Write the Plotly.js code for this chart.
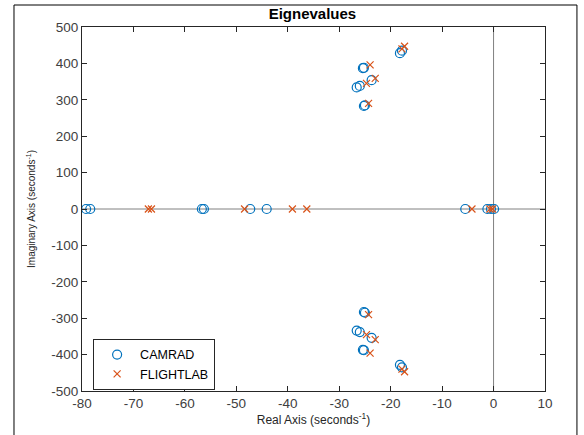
<!DOCTYPE html>
<html><head><meta charset="utf-8">
<script src="https://cdn.plot.ly/plotly-3.0.1.min.js"></script>
<style>body{margin:0;background:#fff}#chart{width:584px;height:435px}</style>
</head><body><div id="chart"></div>
<script>
// CAMRAD eigenvalues (real, imaginary)
const camradReal = [-18.2, -17.8, -25.4, -25.2, -26.6, -26.0, -23.7, -25.2, -25.0,
                    -18.2, -17.8, -25.4, -25.2, -26.6, -26.0, -23.7, -25.2, -25.0,
                    -79.2, -78.4, -56.7, -56.3, -47.3, -44.1, -5.5, -1.2, -0.5, 0.1];
const camradImag = [428, 435, 387, 388, 334, 338, 354, 283, 285,
                    -428, -435, -387, -388, -334, -338, -354, -283, -285,
                    0, 0, 0, 0, 0, 0, 0, 0, 0, 0];
// FLIGHTLAB eigenvalues (real, imaginary)
const flightReal = [-17.3, -17.8, -24.0, -24.7, -23.0, -24.3,
                    -17.3, -17.8, -24.0, -24.7, -23.0, -24.3,
                    -67.1, -66.5, -48.4, -39.1, -36.3, -4.2, -0.7, -0.2];
const flightImag = [447, 440, 396, 345, 359, 290,
                    -447, -440, -396, -345, -359, -290,
                    0, 0, 0, 0, 0, 0, 0, 0];
const xTicks = [-80, -70, -60, -50, -40, -30, -20, -10, 0, 10];
const xTickText = ['-80', '-70', '-60', '-50', '-40', '-30', '-20', '-10', '0', '10'];
const yTicks = [-500, -400, -300, -200, -100, 0, 100, 200, 300, 400, 500];
const yTickText = ['-500', '-400', '-300', '-200', '-100', '0', '100', '200', '300', '400', '500'];

const traces = [
  {x: camradReal, y: camradImag, name: 'CAMRAD', type: 'scatter', mode: 'markers',
   marker: {symbol: 'circle-open', size: 9, color: '#0072BD', line: {width: 1.2, color: '#0072BD'}}},
  {x: flightReal, y: flightImag, name: 'FLIGHTLAB', type: 'scatter', mode: 'markers',
   marker: {symbol: 'x-thin-open', size: 7, color: '#D95319', line: {width: 1.2, color: '#D95319'}}}
];
const axisCommon = {showgrid: false, zeroline: false, showline: true, linecolor: '#262626', linewidth: 1,
  mirror: 'ticks', ticks: 'inside', ticklen: 5, tickcolor: '#262626',
  tickfont: {family: 'Liberation Sans, Arial', size: 13.5, color: '#404040'}};
const layout = {
  width: 584, height: 435,
  margin: {l: 82, r: 39, t: 27, b: 44},
  paper_bgcolor: '#fff', plot_bgcolor: '#fff',
  font: {family: 'Liberation Sans, Arial', color: '#262626'},
  title: {text: '<b>Eignevalues</b>', font: {size: 15, color: '#000'}, x: 0.535, xanchor: 'center', y: 0.968, yanchor: 'middle'},
  xaxis: Object.assign({}, axisCommon, {range: [-80, 10], tickvals: xTicks, ticktext: xTickText,
    title: {text: 'Real Axis (seconds<sup>-1</sup>)', font: {size: 12, color: '#262626'}, standoff: 2}}),
  yaxis: Object.assign({}, axisCommon, {range: [-500, 500], tickvals: yTicks, ticktext: yTickText,
    title: {text: 'Imaginary Axis (seconds<sup>-1</sup>)', font: {size: 10, color: '#262626'}, standoff: 13}}),
  showlegend: true,
  legend: {x: 0.024, y: 0.143, xanchor: 'left', yanchor: 'top', bgcolor: '#fff', bordercolor: '#262626', borderwidth: 1,
    font: {size: 12.5, color: '#000'}, itemwidth: 36, tracegroupgap: 0},
  shapes: [
    {type: 'line', xref: 'x', yref: 'paper', x0: 0, x1: 0, y0: 0, y1: 1, line: {color: '#808080', width: 1}, layer: 'below'},
    {type: 'line', xref: 'paper', yref: 'y', x0: 0, x1: 1, y0: 0, y1: 0, line: {color: '#808080', width: 1}, layer: 'below'},
    {type: 'rect', xref: 'paper', yref: 'paper', x0: -0.1469, x1: 1.069, y0: -0.2, y1: 1.0604, line: {color: '#000', width: 1}, fillcolor: 'rgba(0,0,0,0)'}
  ]
};
Plotly.newPlot('chart', traces, layout, {displayModeBar: false, staticPlot: true});
</script></body></html>
